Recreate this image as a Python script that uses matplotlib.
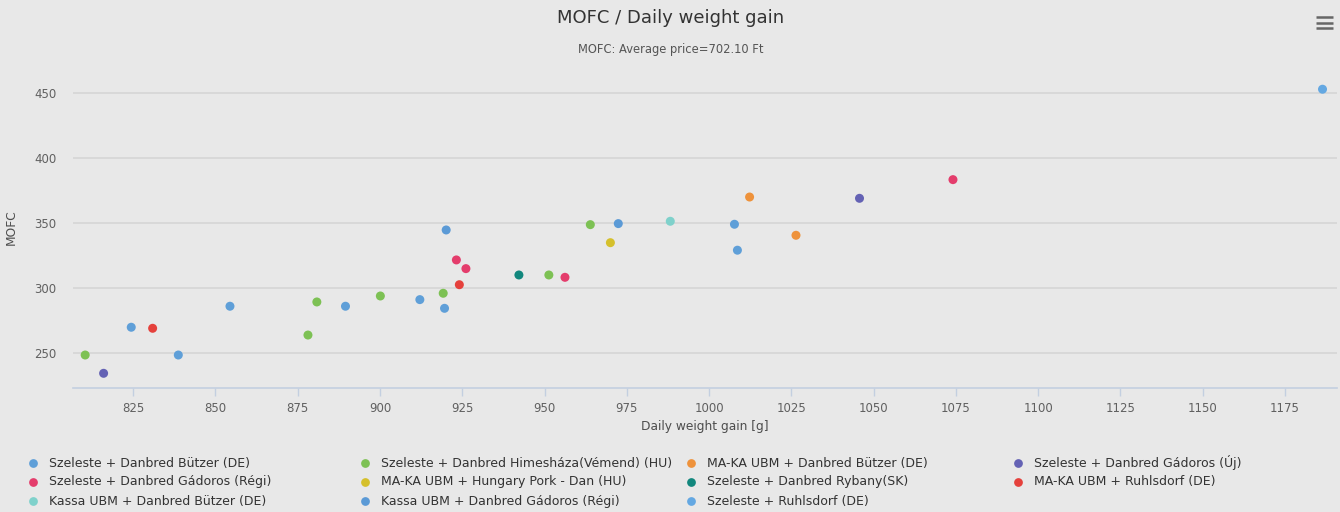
import matplotlib
matplotlib.use("Agg")
import matplotlib.pyplot as plt
from matplotlib.lines import Line2D

# ---- data ----
series_names = [
    "Szeleste + Danbred Bützer (DE)",
    "Szeleste + Danbred Himesháza(Vémend) (HU)",
    "MA-KA UBM + Danbred Bützer (DE)",
    "Szeleste + Danbred Gádoros (Új)",
    "Szeleste + Danbred Gádoros (Régi)",
    "MA-KA UBM + Hungary Pork - Dan (HU)",
    "Szeleste + Danbred Rybany(SK)",
    "MA-KA UBM + Ruhlsdorf (DE)",
    "Kassa UBM + Danbred Bützer (DE)",
    "Kassa UBM + Danbred Gádoros (Régi)",
    "Szeleste + Ruhlsdorf (DE)",
]
series_colors = [
    "#5f9fd8", "#7dc154", "#ee923b", "#6462b4", "#e43d6c", "#d5c02c",
    "#12877d", "#e5413c", "#7fd1cb", "#5b9ad6", "#64a8e2",
]
x_szeleste_butzer = [824.4, 838.7, 854.4, 889.5, 912.1, 919.6, 1007.7, 1008.6]
y_szeleste_butzer = [269.6, 248.2, 285.8, 285.8, 290.9, 284.2, 349.0, 329.0]
x_himeshaza = [810.4, 878.1, 880.8, 900.1, 919.2, 951.3, 963.9]
y_himeshaza = [248.2, 263.6, 289.1, 293.7, 295.8, 309.9, 348.7]
x_maka_butzer = [1012.3, 1026.4]
y_maka_butzer = [370.0, 340.5]
x_gadoros_uj = [816.0, 1045.7]
y_gadoros_uj = [234.1, 369.0]
x_gadoros_regi = [923.2, 926.1, 956.2, 1074.1]
y_gadoros_regi = [321.5, 314.8, 308.1, 383.4]
x_hungary_pork = [970.0]
y_hungary_pork = [334.8]
x_rybany = [942.2]
y_rybany = [309.9]
x_maka_ruhlsdorf = [830.9, 924.1]
y_maka_ruhlsdorf = [268.8, 302.4]
x_kassa_butzer = [988.2]
y_kassa_butzer = [351.3]
x_kassa_gadoros = [920.1, 972.4]
y_kassa_gadoros = [344.6, 349.5]
x_szeleste_ruhlsdorf = [1186.4]
y_szeleste_ruhlsdorf = [453.1]

series_x = [x_szeleste_butzer, x_himeshaza, x_maka_butzer, x_gadoros_uj,
            x_gadoros_regi, x_hungary_pork, x_rybany, x_maka_ruhlsdorf,
            x_kassa_butzer, x_kassa_gadoros, x_szeleste_ruhlsdorf]
series_y = [y_szeleste_butzer, y_himeshaza, y_maka_butzer, y_gadoros_uj,
            y_gadoros_regi, y_hungary_pork, y_rybany, y_maka_ruhlsdorf,
            y_kassa_butzer, y_kassa_gadoros, y_szeleste_ruhlsdorf]

x_ticks = [825, 850, 875, 900, 925, 950, 975, 1000, 1025, 1050, 1075, 1100, 1125, 1150, 1175]
y_ticks = [250, 300, 350, 400, 450]

title = "MOFC / Daily weight gain"
subtitle = "MOFC: Average price=702.10 Ft"
x_label = "Daily weight gain [g]"
y_label = "MOFC"

# ---- figure ----
W, H = 1340, 512
BG = "#e8e8e8"
plt.rcParams['font.family'] = ['DejaVu Sans']
fig = plt.figure(figsize=(W / 100, H / 100), dpi=100, facecolor=BG)

left_px, right_px, bottom_px, top_px = 73, 1337, 387.7, 67.3
ax = fig.add_axes([left_px / W, 1 - bottom_px / H,
                   (right_px - left_px) / W, (bottom_px - top_px) / H])
ax.set_facecolor(BG)
ax.set_xlim(806.7, 1190.8)
ax.set_ylim(223, 470)

for sx, sy, c in zip(series_x, series_y, series_colors):
    ax.scatter(sx, sy, s=42, color=c, edgecolors='none', zorder=3)

ax.set_yticks(y_ticks)
ax.set_xticks(x_ticks)
ax.grid(axis='y', color='#d5d5d5', linewidth=1.2, zorder=0)
for sp in ['top', 'right', 'left']:
    ax.spines[sp].set_visible(False)
ax.spines['bottom'].set_color('#c3cfe0')
ax.spines['bottom'].set_linewidth(1.2)
ax.tick_params(axis='x', colors='#c3cfe0', length=6, width=1, labelcolor='#606060',
               labelsize=8.5, pad=4)
ax.tick_params(axis='y', length=0, labelcolor='#606060', labelsize=8.5, pad=12)

ax.set_xlabel(x_label, fontsize=8.8, color='#4d4d4d', labelpad=4)
ax.set_ylabel(y_label, fontsize=8.8, color='#4d4d4d')
ax.yaxis.set_label_coords((18 - left_px) / (right_px - left_px), 0.5)

fig.text(671 / W, 1 - 18 / H, title, ha='center', va='center', fontsize=13, color='#333333')
fig.text(671 / W, 1 - 50 / H, subtitle, ha='center', va='center', fontsize=8.3, color='#555555')

# hamburger menu icon
for yy in [17, 22.5, 28]:
    fig.add_artist(Line2D([1316 / W, 1333 / W], [1 - yy / H, 1 - yy / H],
                          color='#666666', linewidth=1.8, solid_capstyle='butt'))

# legend (Highcharts style, 4 columns, row-major)
col_x = [33, 365, 691, 1018]
row_y = [463, 482, 501]
for i, (name, c) in enumerate(zip(series_names, series_colors)):
    r, cidx = divmod(i, 4)
    mx = col_x[cidx]
    my = row_y[r]
    fig.add_artist(Line2D([mx / W], [1 - my / H], marker='o', markersize=6.3,
                          color=c, markeredgecolor='none', linestyle='none'))
    fig.text((mx + 16) / W, 1 - my / H, name, ha='left', va='center',
             fontsize=9, color='#333333')

fig.savefig("out.png", dpi=100, facecolor=BG)
